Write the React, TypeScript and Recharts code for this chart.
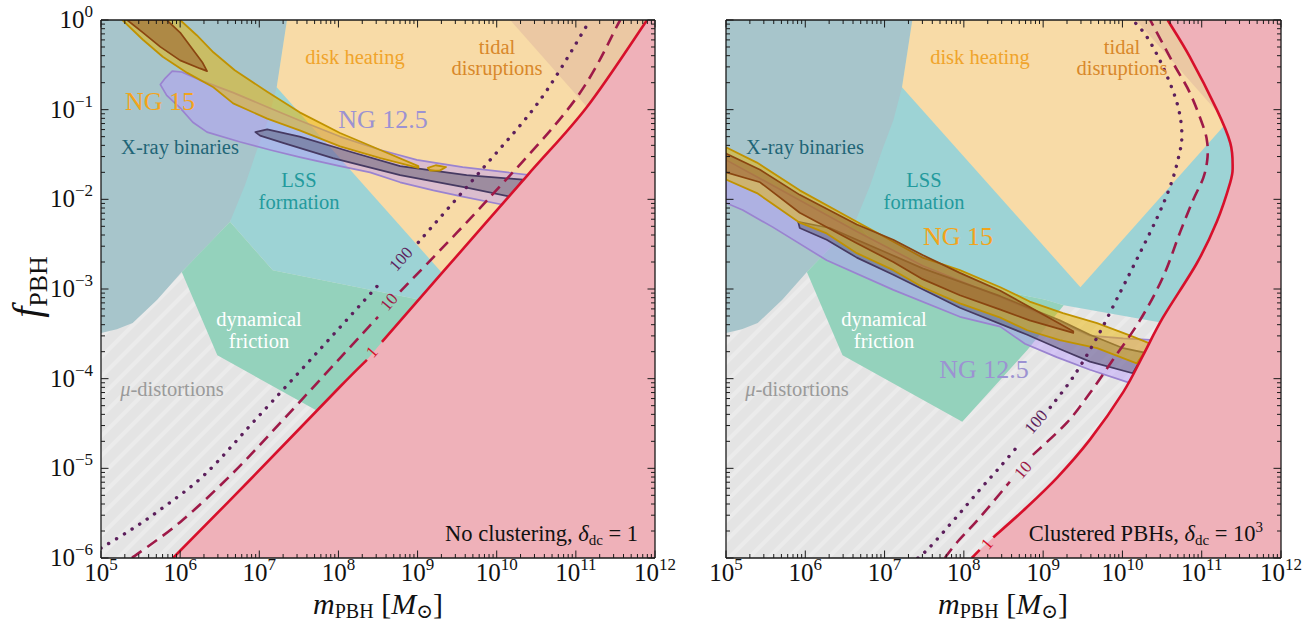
import React from 'react';
import { ComposedChart, Scatter, XAxis, YAxis } from 'recharts';

type P = [number, number];

const FONT = "'Liberation Serif', 'DejaVu Serif', serif";

// ---------- axes (values are log10 m_PBH [M_sun] and log10 f_PBH) ----------
const X_DOMAIN: [number, number] = [5, 12];
const Y_DOMAIN: [number, number] = [-6, 0];
const X_DECADES = [5, 6, 7, 8, 9, 10, 11, 12];
const Y_DECADES = [-6, -5, -4, -3, -2, -1, 0];
const MINOR_MULTIPLES = [2, 3, 4, 5, 6, 7, 8, 9];

const withMinor = (decades: number[]) => {
  const out: number[] = [];
  decades.forEach((d, i) => {
    out.push(d);
    if (i < decades.length - 1) MINOR_MULTIPLES.forEach((k) => out.push(d + Math.log10(k)));
  });
  return out;
};
const X_TICKS = withMinor(X_DECADES);
const Y_TICKS = withMinor(Y_DECADES);

// ---------- constraint regions (log10 m, log10 f) ----------
const MU_DISTORTIONS: P[] = [[5, -6], [12, -6], [12, 0], [5, 0]];
const XRAY_BINARIES: P[] = [
  [5, 0], [7.35, 0], [7.22, -0.75], [7.11, -1.12], [6.97, -1.45], [6.82, -1.84], [6.63, -2.25],
  [6.33, -2.53], [6.02, -2.81], [5.71, -3.12], [5.4, -3.38], [5.2, -3.45], [5, -3.49],
];
const LSS_FORMATION: P[] = [
  [7.0, 0], [12, 0], [12, -3.45], [10.52, -3.38], [9.26, -3.18], [9.03, -3.12], [7.17, -2.79],
  [6.63, -2.25], [6.9, -1.0],
];
const DYNAMICAL_FRICTION: P[] = [
  [6.63, -2.25], [7.17, -2.79], [9.03, -3.12], [9.26, -3.18], [8.8, -3.68], [7.98, -4.48],
  [6.47, -3.74], [6.02, -2.81],
];
const DISK_HEATING: P[] = [[7.35, 0], [7.22, -0.75], [9.47, -2.98], [11.27, -1.19], [12, -0.45], [12, 0]];
const TIDAL_DISRUPTIONS: P[] = [[10.17, 0], [11.25, -1.08], [12, -1.08], [12, 0]];

// ---------- no clustering (left) ----------
const RED1_A: P[] = [[5.91, -6], [6.88, -5.13], [8.02, -4.09], [8.36, -3.79]];
const RED1_B: P[] = [[8.55, -3.59], [9.32, -2.81], [10.38, -1.74], [11.14, -0.97], [11.9, 0]];
const DASH10_A: P[] = [[5.39, -6], [6.0, -5.6], [6.67, -5.05], [7.3, -4.46], [8.02, -3.77], [8.5, -3.31]];
const DASH10_B: P[] = [[8.78, -3.03], [9.88, -2.01], [10.99, -0.89], [11.56, 0]];
const DOT100_A: P[] = [
  [5.0, -5.89], [5.37, -5.69], [5.75, -5.46], [6.31, -5.07], [6.97, -4.44], [7.77, -3.67], [8.56, -2.9],
];
const DOT100_B: P[] = [[9.01, -2.48], [9.81, -1.67], [10.55, -0.89], [11.18, 0]];

const NG15_OUTER: P[] = [
  [6.0, 0], [6.21, -0.17], [6.42, -0.36], [6.69, -0.56], [7.1, -0.8], [7.51, -1.03], [8.02, -1.26],
  [8.53, -1.45], [9.01, -1.63], [9.01, -1.65], [8.53, -1.54], [8.02, -1.41], [7.51, -1.23], [7.1, -1.1],
  [6.67, -0.93], [6.42, -0.75], [6.09, -0.59], [5.78, -0.41], [5.53, -0.22], [5.27, 0],
];
const NG15_INNER: P[] = [
  [5.33, 0], [5.53, -0.14], [5.75, -0.3], [6.0, -0.45], [6.25, -0.54], [6.34, -0.57], [6.28, -0.47],
  [6.16, -0.33], [6.0, -0.14], [5.83, 0],
];
const NG15_ISLAND: P[] = [[9.13, -1.65], [9.23, -1.62], [9.36, -1.64], [9.28, -1.68], [9.16, -1.68]];
const NG12_OUTER: P[] = [
  [5.75, -0.72], [5.81, -0.65], [5.9, -0.57], [6.02, -0.58], [6.25, -0.67], [6.67, -0.81], [7.1, -0.97],
  [7.51, -1.12], [8.02, -1.3], [8.53, -1.45], [8.99, -1.56], [9.57, -1.64], [10.42, -1.73],
  [10.08, -2.06], [9.57, -1.97], [9.2, -1.9], [8.78, -1.81], [8.4, -1.7], [8.02, -1.63], [7.51, -1.53],
  [7.14, -1.45], [6.76, -1.36], [6.34, -1.25], [6.16, -1.14], [6.0, -0.98], [5.83, -0.84],
];
const NG12_INNER: P[] = [
  [6.95, -1.25], [7.1, -1.22], [7.51, -1.3], [8.15, -1.47], [8.78, -1.63], [9.62, -1.73], [10.33, -1.78],
  [10.17, -1.97], [9.62, -1.87], [8.78, -1.73], [7.93, -1.54], [7.3, -1.37], [7.01, -1.29],
];

// ---------- clustered PBHs (right) ----------
const RED1C_A: P[] = [[8.1, -6], [8.2, -5.91]];
const RED1C_B: P[] = [
  [8.37, -5.77], [8.75, -5.47], [9.18, -5.1], [9.59, -4.68], [10.01, -4.15], [10.26, -3.74],
  [10.51, -3.32], [10.94, -2.71], [11.19, -2.25], [11.36, -1.81], [11.39, -1.64], [11.36, -1.37],
  [11.19, -1.0], [10.85, -0.41], [10.57, 0],
];
const DASH10C_A: P[] = [[7.76, -6], [7.91, -5.83], [8.2, -5.55], [8.58, -5.15]];
const DASH10C_B: P[] = [
  [8.87, -4.85], [9.3, -4.49], [9.59, -4.16], [9.88, -3.79], [10.22, -3.35], [10.51, -2.87],
  [10.73, -2.36], [10.89, -2.01], [11.02, -1.76], [11.07, -1.56], [11.07, -1.37], [11.02, -1.19],
  [10.85, -0.81], [10.64, -0.48], [10.35, 0],
];
const DOT100C_A: P[] = [[7.42, -6], [7.57, -5.88], [7.91, -5.54], [8.2, -5.24], [8.46, -4.98], [8.71, -4.72]];
const DOT100C_B: P[] = [
  [9.09, -4.32], [9.38, -3.98], [9.68, -3.54], [9.97, -3.04], [10.22, -2.6], [10.44, -2.2], [10.6, -1.86],
  [10.7, -1.56], [10.75, -1.28], [10.69, -0.93], [10.51, -0.52], [10.31, -0.19], [10.13, 0],
];
const NG15C_OUTER: P[] = [
  [5.0, -1.42], [5.39, -1.59], [5.93, -1.9], [6.65, -2.25], [7.48, -2.65], [7.95, -2.79], [8.46, -2.98],
  [8.83, -3.14], [9.25, -3.27], [9.68, -3.38], [10.1, -3.52], [10.35, -3.61],
  [10.18, -3.83], [9.68, -3.66], [9.21, -3.57], [8.8, -3.46], [8.46, -3.32], [7.95, -3.16], [7.48, -2.98],
  [7.11, -2.79], [6.65, -2.6], [6.27, -2.38], [5.93, -2.26], [5.39, -1.93], [5.0, -1.78],
];
const NG15C_INNER: P[] = [
  [5.0, -1.49], [5.43, -1.67], [5.93, -1.95], [6.65, -2.28], [7.11, -2.45], [7.48, -2.62], [7.95, -2.82],
  [8.46, -3.02], [8.83, -3.2], [9.38, -3.47], [9.38, -3.49], [8.83, -3.35], [8.46, -3.23], [7.95, -3.07],
  [7.48, -2.89], [7.11, -2.7], [6.65, -2.49], [5.93, -2.15], [5.43, -1.81], [5.0, -1.7],
];
const NG12C_OUTER: P[] = [
  [5.0, -1.56], [5.93, -2.01], [6.65, -2.36], [7.48, -2.74], [8.46, -3.09], [9.21, -3.37], [9.59, -3.52],
  [10.01, -3.55], [10.41, -3.57], [10.1, -4.05], [9.59, -3.9], [9.17, -3.76], [8.77, -3.61],
  [8.46, -3.42], [7.95, -3.31], [7.11, -3.01], [6.27, -2.68], [5.59, -2.31], [5.21, -2.12], [5.0, -2.04],
];
const NG12C_INNER: P[] = [
  [5.91, -2.25], [6.31, -2.32], [6.65, -2.45], [7.48, -2.77], [8.46, -3.08], [9.21, -3.35], [9.59, -3.51],
  [10.01, -3.66], [10.28, -3.71], [10.13, -3.94], [9.59, -3.81], [9.21, -3.67], [8.8, -3.51],
  [7.95, -3.21], [7.11, -2.84], [6.65, -2.65], [6.27, -2.45], [5.93, -2.32],
];

const PLOT_CORNERS_RIGHT: P[] = [[12, 0], [12, -6]];
const PINK_NOCLUST: P[] = [...RED1_A, ...RED1_B, ...PLOT_CORNERS_RIGHT];
const PINK_CLUST: P[] = [...RED1C_A, ...RED1C_B, ...PLOT_CORNERS_RIGHT];

// ---------- rendering helpers ----------
type Pt = { x: number; y: number };
const toRows = (pts: P[]) => pts.map(([x, y]) => ({ x, y }));
const validPts = (props: any): Pt[] =>
  (props.points || []).filter((p: any) => Number.isFinite(p.x) && Number.isFinite(p.y));

const smoothPath = (pts: Pt[]) => {
  if (!pts.length) return '';
  let d = `M${pts[0].x.toFixed(2)},${pts[0].y.toFixed(2)}`;
  for (let i = 0; i < pts.length - 1; i++) {
    const p0 = pts[i - 1] || pts[i];
    const p1 = pts[i];
    const p2 = pts[i + 1];
    const p3 = pts[i + 2] || p2;
    const c1x = p1.x + (p2.x - p0.x) / 6;
    const c1y = p1.y + (p2.y - p0.y) / 6;
    const c2x = p2.x - (p3.x - p1.x) / 6;
    const c2y = p2.y - (p3.y - p1.y) / 6;
    d += ` C${c1x.toFixed(2)},${c1y.toFixed(2)} ${c2x.toFixed(2)},${c2y.toFixed(2)} ${p2.x.toFixed(2)},${p2.y.toFixed(2)}`;
  }
  return d;
};

const polygon = (style: any) => (props: any) => {
  const pts = validPts(props);
  const d = pts.map((p, i) => `${i ? 'L' : 'M'}${p.x.toFixed(2)},${p.y.toFixed(2)}`).join(' ') + ' Z';
  return <path d={d} strokeLinejoin="round" {...style} />;
};
const curve = (style: any) => (props: any) => (
  <path d={smoothPath(validPts(props))} fill="none" {...style} />
);
const noDot = () => <g />;

const S = {
  mu: { fill: 'url(#muHatch)', stroke: 'none' },
  xray: { fill: '#a7c5cb', stroke: 'none' },
  lss: { fill: '#9dd3d5', stroke: 'none' },
  dyn: { fill: '#94d2bc', stroke: 'none' },
  disk: { fill: '#f8dba7', stroke: 'none' },
  tidal: { fill: '#ebc8a3', stroke: 'none' },
  pink: { fill: '#efb1b9', stroke: 'none' },
  ng12o: { fill: '#b898ff', fillOpacity: 0.45, stroke: '#9a83d0', strokeWidth: 1.7 },
  ng12i: { fill: '#47475f', fillOpacity: 0.42, stroke: '#463a62', strokeWidth: 1.7 },
  ng15o: { fill: '#ebb600', fillOpacity: 0.5, stroke: '#c09200', strokeWidth: 1.8 },
  ng15i: { fill: '#8f4a1e', fillOpacity: 0.45, stroke: '#8a4510', strokeWidth: 1.7 },
  red: { stroke: '#d7102b', strokeWidth: 2.6 },
  dash: { stroke: '#9e1a48', strokeWidth: 2.6, strokeDasharray: '12 7' },
  dot: { stroke: '#5c1f5c', strokeWidth: 3.4, strokeDasharray: '0.1 9', strokeLinecap: 'round' },
};

type Layer = { key: string; pts: P[]; render: (p: any) => React.ReactElement };

const commonBack: Layer[] = [
  { key: 'mu', pts: MU_DISTORTIONS, render: polygon(S.mu) },
  { key: 'lss', pts: LSS_FORMATION, render: polygon(S.lss) },
  { key: 'xray', pts: XRAY_BINARIES, render: polygon(S.xray) },
  { key: 'dyn', pts: DYNAMICAL_FRICTION, render: polygon(S.dyn) },
  { key: 'disk', pts: DISK_HEATING, render: polygon(S.disk) },
  { key: 'tidal', pts: TIDAL_DISRUPTIONS, render: polygon(S.tidal) },
];

const LEFT_LAYERS: Layer[] = [
  ...commonBack,
  { key: 'ng12o', pts: NG12_OUTER, render: polygon(S.ng12o) },
  { key: 'ng12i', pts: NG12_INNER, render: polygon(S.ng12i) },
  { key: 'ng15o', pts: NG15_OUTER, render: polygon(S.ng15o) },
  { key: 'ng15isl', pts: NG15_ISLAND, render: polygon(S.ng15o) },
  { key: 'ng15i', pts: NG15_INNER, render: polygon(S.ng15i) },
  { key: 'pink', pts: PINK_NOCLUST, render: polygon(S.pink) },
  { key: 'dotA', pts: DOT100_A, render: curve(S.dot) },
  { key: 'dotB', pts: DOT100_B, render: curve(S.dot) },
  { key: 'dashA', pts: DASH10_A, render: curve(S.dash) },
  { key: 'dashB', pts: DASH10_B, render: curve(S.dash) },
  { key: 'redA', pts: RED1_A, render: curve(S.red) },
  { key: 'redB', pts: RED1_B, render: curve(S.red) },
];

const RIGHT_LAYERS: Layer[] = [
  ...commonBack,
  { key: 'ng12o', pts: NG12C_OUTER, render: polygon(S.ng12o) },
  { key: 'ng12i', pts: NG12C_INNER, render: polygon(S.ng12i) },
  { key: 'ng15o', pts: NG15C_OUTER, render: polygon(S.ng15o) },
  { key: 'ng15i', pts: NG15C_INNER, render: polygon(S.ng15i) },
  { key: 'pink', pts: PINK_CLUST, render: polygon(S.pink) },
  { key: 'dotA', pts: DOT100C_A, render: curve(S.dot) },
  { key: 'dotB', pts: DOT100C_B, render: curve(S.dot) },
  { key: 'dashA', pts: DASH10C_A, render: curve(S.dash) },
  { key: 'dashB', pts: DASH10C_B, render: curve(S.dash) },
  { key: 'redA', pts: RED1C_A, render: curve(S.red) },
  { key: 'redB', pts: RED1C_B, render: curve(S.red) },
];

// ---------- ticks (inward, matplotlib style) ----------
const makeTick = (side: 'bottom' | 'top' | 'left' | 'right', labels: boolean) => (props: any) => {
  const { x, y, payload } = props;
  const v = Number(payload?.value);
  const major = Math.abs(v - Math.round(v)) < 1e-6;
  const len = major ? 7.5 : 4;
  let x2 = x;
  let y2 = y;
  if (side === 'bottom') y2 = y - len;
  if (side === 'top') y2 = y + len;
  if (side === 'left') x2 = x + len;
  if (side === 'right') x2 = x - len;
  const e = Math.round(v);
  const eStr = e < 0 ? `\u2212${-e}` : `${e}`;
  return (
    <g>
      <line x1={x} y1={y} x2={x2} y2={y2} stroke="#1a1a1a" strokeWidth={1} />
      {labels && major && side === 'bottom' && (
        <text x={x} y={y + 23} textAnchor="middle" fontFamily={FONT} fontSize={25} fill="#111">
          10<tspan dy={-11} fontSize={17}>{eStr}</tspan>
        </text>
      )}
      {labels && major && side === 'left' && (
        <text x={x - 8} y={y + 8} textAnchor="end" fontFamily={FONT} fontSize={25} fill="#111">
          10<tspan dy={-11} fontSize={17}>{eStr}</tspan>
        </text>
      )}
    </g>
  );
};

const AXIS_LINE = { stroke: '#1a1a1a', strokeWidth: 1.3 };

function Panel({ left, width, margin, layers, yLabels }: any) {
  return (
    <div style={{ position: 'absolute', left, top: 0 }}>
      <ComposedChart width={width} height={625} margin={margin}>
        {layers.map((l: Layer) => (
          <Scatter
            key={l.key}
            name={l.key}
            data={toRows(l.pts)}
            dataKey="y"
            line={l.render}
            lineType="joint"
            shape={noDot}
            isAnimationActive={false}
            legendType="none"
            zIndex={100}
          />
        ))}
        <XAxis
          dataKey="x" type="number" domain={X_DOMAIN} ticks={X_TICKS} interval={0} allowDataOverflow
          height={1} tickSize={0} tickMargin={0} tickLine={false} axisLine={AXIS_LINE}
          tick={makeTick('bottom', true)} zIndex={1000}
        />
        <XAxis
          xAxisId="top" orientation="top" dataKey="x" type="number" domain={X_DOMAIN} ticks={X_TICKS}
          interval={0} allowDataOverflow height={1} tickSize={0} tickMargin={0} tickLine={false}
          axisLine={AXIS_LINE} tick={makeTick('top', false)} zIndex={1000}
        />
        <YAxis
          dataKey="y" type="number" domain={Y_DOMAIN} ticks={Y_TICKS} interval={0} allowDataOverflow
          width={1} tickSize={0} tickMargin={0} tickLine={false} axisLine={AXIS_LINE}
          tick={makeTick('left', yLabels)} zIndex={1000}
        />
        <YAxis
          yAxisId="right" orientation="right" dataKey="y" type="number" domain={Y_DOMAIN} ticks={Y_TICKS}
          interval={0} allowDataOverflow width={1} tickSize={0} tickMargin={0} tickLine={false}
          axisLine={AXIS_LINE} tick={makeTick('right', false)} zIndex={1000}
        />
      </ComposedChart>
    </div>
  );
}

// ---------- text overlay ----------
const T = ({ x, y, size = 20.5, fill = '#111', anchor = 'middle', rotate, children }: any) => (
  <text
    x={rotate === undefined ? x : 0}
    y={rotate === undefined ? y : 0}
    transform={rotate === undefined ? undefined : `translate(${x},${y}) rotate(${rotate})`}
    textAnchor={anchor}
    dominantBaseline={rotate === undefined ? undefined : 'central'}
    fontFamily={FONT}
    fontSize={size}
    fill={fill}
  >
    {children}
  </text>
);

function PanelText({ dx }: { dx: number }) {
  return (
    <g>
      <T x={355 + dx} y={64} fill="#f0a42b">disk heating</T>
      <T x={497 + dx} y={54} fill="#d8882a">tidal</T>
      <T x={497 + dx} y={75} fill="#d8882a">disruptions</T>
      <T x={180 + dx} y={154} fill="#1f6577">X-ray binaries</T>
      <T x={299 + dx} y={187} fill="#239a9d">LSS</T>
      <T x={299 + dx} y={209} fill="#239a9d">formation</T>
      <T x={259 + dx} y={326} fill="#ffffff">dynamical</T>
      <T x={259 + dx} y={348} fill="#ffffff">friction</T>
      <T x={172 + dx} y={396} fill="#9a9a9a">
        <tspan fontStyle="italic">μ</tspan>-distortions
      </T>
    </g>
  );
}

function AxisTitle({ cx }: { cx: number }) {
  return (
    <text x={cx} y={614} textAnchor="middle" fontFamily={FONT} fontSize={30} fill="#111">
      <tspan fontStyle="italic">m</tspan>
      <tspan fontSize={20} dy={4}>PBH</tspan>
      <tspan dy={-4}> [</tspan>
      <tspan fontStyle="italic">M</tspan>
      <tspan fontSize={20} dy={4}>⊙</tspan>
      <tspan dy={-4}>]</tspan>
    </text>
  );
}

function Overlay() {
  return (
    <svg width={1309} height={625} style={{ position: 'absolute', left: 0, top: 0, pointerEvents: 'none' }}>
      <PanelText dx={0} />
      <PanelText dx={625} />
      <T x={160} y={110} size={26} fill="#f3a41b">NG 15</T>
      <T x={383} y={128} size={26} fill="#9c92d2">NG 12.5</T>
      <T x={958} y={245} size={26} fill="#f3a41b">NG 15</T>
      <T x={984} y={378} size={26} fill="#9c92d2">NG 12.5</T>

      <T x={401} y={259} size={17} fill="#5c1f5c" rotate={-48}>100</T>
      <T x={389} y={302} size={17} fill="#9e1a48" rotate={-50}>10</T>
      <T x={372} y={352} size={17} fill="#d7102b" rotate={-48}>1</T>
      <T x={1036} y={422} size={17} fill="#5c1f5c" rotate={-50}>100</T>
      <T x={1023} y={470} size={17} fill="#9e1a48" rotate={-50}>10</T>
      <T x={987} y={544} size={17} fill="#d7102b" rotate={-50}>1</T>

      <text x={638} y={541} textAnchor="end" fontFamily={FONT} fontSize={22.5} fill="#111">
        No clustering, <tspan fontStyle="italic">δ</tspan>
        <tspan fontSize={15} dy={4}>dc</tspan>
        <tspan dy={-4}> = 1</tspan>
      </text>
      <text x={1263} y={541} textAnchor="end" fontFamily={FONT} fontSize={22.5} fill="#111">
        Clustered PBHs, <tspan fontStyle="italic">δ</tspan>
        <tspan fontSize={15} dy={4}>dc</tspan>
        <tspan dy={-4}> = 10</tspan>
        <tspan fontSize={15} dy={-9}>3</tspan>
      </text>

      <text transform="translate(40,287) rotate(-90)" textAnchor="middle" fontFamily={FONT} fontSize={40} fill="#111">
        <tspan fontStyle="italic">f</tspan>
        <tspan fontSize={26} dy={7}>PBH</tspan>
      </text>
      <AxisTitle cx={378} />
      <AxisTitle cx={1003} />
    </svg>
  );
}

export default function App() {
  return (
    <div style={{ position: 'absolute', left: 0, top: 0, width: 1309, height: 625, background: '#fff' }}>
      <svg width={0} height={0} style={{ position: 'absolute' }}>
        <defs>
          <pattern id="muHatch" patternUnits="userSpaceOnUse" width={14} height={14} patternTransform="rotate(45)">
            <rect width={14} height={14} fill="#e4e4e4" />
            <rect width={4} height={14} fill="#ebebeb" />
          </pattern>
        </defs>
      </svg>
      <Panel left={0} width={680} margin={{ top: 19, right: 24, bottom: 66, left: 100 }} layers={LEFT_LAYERS} yLabels />
      <Panel left={690} width={619} margin={{ top: 19, right: 27, bottom: 66, left: 35 }} layers={RIGHT_LAYERS} yLabels={false} />
      <Overlay />
    </div>
  );
}
